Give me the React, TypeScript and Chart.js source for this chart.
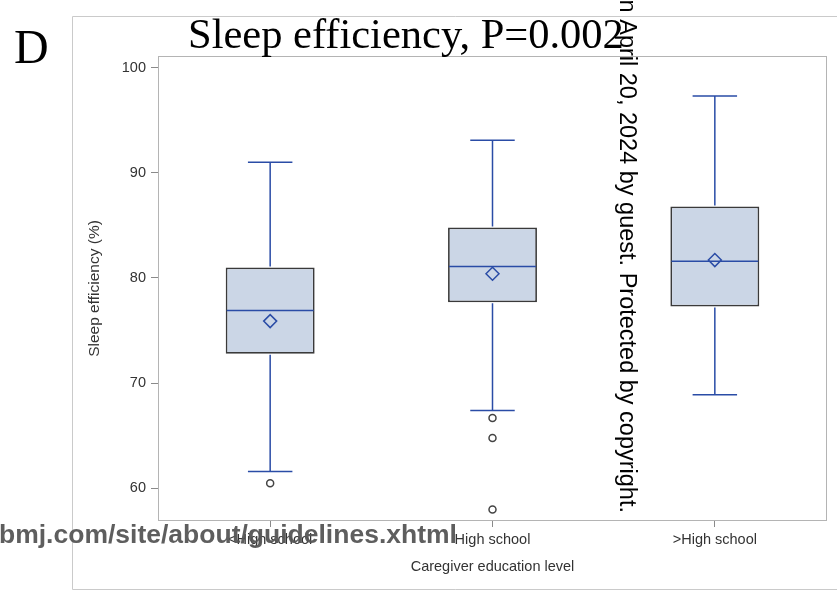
import React, { useEffect, useRef } from 'react';
import { Chart, registerables } from 'chart.js';

Chart.register(...registerables);

// ---- data ----
const categories = ['<High school', 'High school', '>High school'];
const q1Values = [72.8, 77.7, 77.3];
const q3Values = [81.0, 84.8, 86.8];
const medianValues = [76.9, 81.1, 81.6];
const meanValues = [75.9, 80.4, 81.7];
const whiskerLow = [61.6, 67.4, 68.9];
const whiskerHigh = [91.0, 93.1, 97.3];
const outlierValues = [[60.5], [66.7, 64.8, 58.0], []];
const yTicks = [60, 70, 80, 90, 100];
const yMin = 57;
const yMax = 101;

const titleText = 'Sleep efficiency, P=0.002';
const panelLetter = 'D';
const yTitle = 'Sleep efficiency (%)';
const xTitle = 'Caregiver education level';
const watermarkSide = 'n April 20, 2024 by guest. Protected by copyright.';
const watermarkBottom = 'bmj.com/site/about/guidelines.xhtml';

const SANS = '"Liberation Sans", Arial, sans-serif';
const SERIF = '"Liberation Serif", "Times New Roman", serif';
const BLUE = '#2a4ca6';

const boxExtras = {
  id: 'boxExtras',
  beforeDraw(chart: any) {
    const { ctx, width, height } = chart;
    ctx.save();
    ctx.fillStyle = '#ffffff';
    ctx.fillRect(0, 0, width, height);
    // outer figure frame
    ctx.strokeStyle = '#cacaca';
    ctx.lineWidth = 1;
    ctx.beginPath();
    ctx.moveTo(width + 2, 16.5);
    ctx.lineTo(72.5, 16.5);
    ctx.lineTo(72.5, 589.5);
    ctx.lineTo(width + 2, 589.5);
    ctx.stroke();
    ctx.restore();
  },
  beforeDatasetsDraw(chart: any) {
    const { ctx, chartArea } = chart;
    ctx.save();
    ctx.strokeStyle = '#b4b4b4';
    ctx.lineWidth = 1;
    ctx.strokeRect(chartArea.left - 0.5, chartArea.top - 0.5, chartArea.right - chartArea.left + 1, chartArea.bottom - chartArea.top + 1);
    ctx.restore();
  },
  afterDatasetDraw(chart: any, args: any) {
    if (args.index !== 0) return;
    const { ctx } = chart;
    const y = chart.scales.y;
    const meta = chart.getDatasetMeta(0);
    ctx.save();
    ctx.strokeStyle = BLUE;
    ctx.lineWidth = 1.5;
    meta.data.forEach((bar: any, i: number) => {
      const x = bar.x;
      const w = bar.width;
      const yHi = y.getPixelForValue(whiskerHigh[i]);
      const yLo = y.getPixelForValue(whiskerLow[i]);
      const yQ3 = y.getPixelForValue(q3Values[i]);
      const yQ1 = y.getPixelForValue(q1Values[i]);
      const yMed = y.getPixelForValue(medianValues[i]);
      ctx.beginPath();
      // upper whisker
      ctx.moveTo(x, yQ3 - 1);
      ctx.lineTo(x, yHi);
      ctx.moveTo(x - w / 4, yHi);
      ctx.lineTo(x + w / 4, yHi);
      // lower whisker
      ctx.moveTo(x, yQ1 + 1);
      ctx.lineTo(x, yLo);
      ctx.moveTo(x - w / 4, yLo);
      ctx.lineTo(x + w / 4, yLo);
      // median
      ctx.moveTo(x - w / 2 + 1, yMed);
      ctx.lineTo(x + w / 2 - 1, yMed);
      ctx.stroke();
    });
    ctx.restore();
  },
  afterDraw(chart: any) {
    const { ctx } = chart;
    ctx.save();
    ctx.fillStyle = '#000';
    ctx.textBaseline = 'alphabetic';
    ctx.textAlign = 'left';
    ctx.font = `48px ${SERIF}`;
    ctx.fillText(panelLetter, 14, 63);
    ctx.font = `42.5px ${SERIF}`;
    ctx.fillText(titleText, 188, 48);

    ctx.font = `bold 26.5px ${SANS}`;
    ctx.fillStyle = 'rgba(85,85,85,0.95)';
    ctx.fillText(watermarkBottom, -1, 543);

    ctx.fillStyle = '#000';
    ctx.font = `23.5px ${SANS}`;
    ctx.translate(619.5, 513);
    ctx.rotate(Math.PI / 2);
    ctx.textAlign = 'right';
    ctx.fillText(watermarkSide, 0, 0);
    ctx.restore();
  },
};

export default function App() {
  const canvasRef = useRef<HTMLCanvasElement | null>(null);

  useEffect(() => {
    const canvas = canvasRef.current;
    if (!canvas) return;
    const outlierPoints: { x: string; y: number }[] = [];
    outlierValues.forEach((vals, i) => vals.forEach((v) => outlierPoints.push({ x: categories[i], y: v })));

    const chart = new Chart(canvas, {
      type: 'bar',
      data: {
        labels: categories,
        datasets: [
          {
            type: 'bar',
            label: 'IQR',
            data: categories.map((_, i) => [q1Values[i], q3Values[i]]) as any,
            backgroundColor: '#cbd6e6',
            borderColor: '#3a3a3a',
            borderWidth: 1.75,
            borderSkipped: false,
            barPercentage: 0.4,
            categoryPercentage: 1,
            order: 3,
          } as any,
          {
            type: 'line',
            label: 'Outliers',
            data: outlierPoints as any,
            showLine: false,
            pointStyle: 'circle',
            pointRadius: 3.5,
            pointBorderWidth: 1.5,
            borderColor: '#444',
            backgroundColor: '#fff',
            order: 2,
          } as any,
          {
            type: 'line',
            label: 'Mean',
            data: categories.map((c, i) => ({ x: c, y: meanValues[i] })) as any,
            showLine: false,
            pointStyle: 'rectRot',
            pointRadius: 6.5,
            pointBorderWidth: 1.5,
            borderColor: BLUE,
            backgroundColor: 'rgba(0,0,0,0)',
            order: 1,
          } as any,
        ],
      },
      options: {
        animation: false,
        responsive: false,
        maintainAspectRatio: false,
        events: [],
        layout: { padding: { left: 81, top: 57, right: 11, bottom: 12 } },
        plugins: {
          legend: { display: false },
          tooltip: { enabled: false },
          title: { display: false },
        },
        scales: {
          x: {
            type: 'category',
            offset: true,
            border: { display: false },
            grid: {
              display: true,
              drawOnChartArea: false,
              drawTicks: true,
              tickLength: 7,
              color: '#8a8a8a',
              offset: false,
            },
            ticks: {
              color: '#333',
              font: { family: SANS, size: 14.5 },
              padding: 4,
              maxRotation: 0,
              autoSkip: false,
            },
            title: {
              display: true,
              text: xTitle,
              color: '#333',
              font: { family: SANS, size: 14.5 },
              padding: { top: 4, bottom: 4 },
            },
            afterFit: (s: any) => {
              s.height = 60;
            },
          },
          y: {
            type: 'linear',
            min: yMin,
            max: yMax,
            border: { display: false },
            afterBuildTicks: (s: any) => {
              s.ticks = yTicks.map((v) => ({ value: v }));
            },
            grid: {
              display: true,
              drawOnChartArea: false,
              drawTicks: true,
              tickLength: 8,
              color: '#8a8a8a',
            },
            ticks: {
              color: '#333',
              font: { family: SANS, size: 14.5 },
              padding: 5,
            },
            title: {
              display: true,
              text: yTitle,
              color: '#333',
              font: { family: SANS, size: 15.5 },
              padding: { top: 4, bottom: 4 },
            },
            afterFit: (s: any) => {
              s.width = 78;
            },
          },
        } as any,
      },
      plugins: [boxExtras],
    });
    return () => chart.destroy();
  }, []);

  return (
    <div style={{ position: 'fixed', left: 0, top: 0, width: 837, height: 592, background: '#fff' }}>
      <canvas ref={canvasRef} width={837} height={592} style={{ display: 'block', width: 837, height: 592 }} />
    </div>
  );
}
